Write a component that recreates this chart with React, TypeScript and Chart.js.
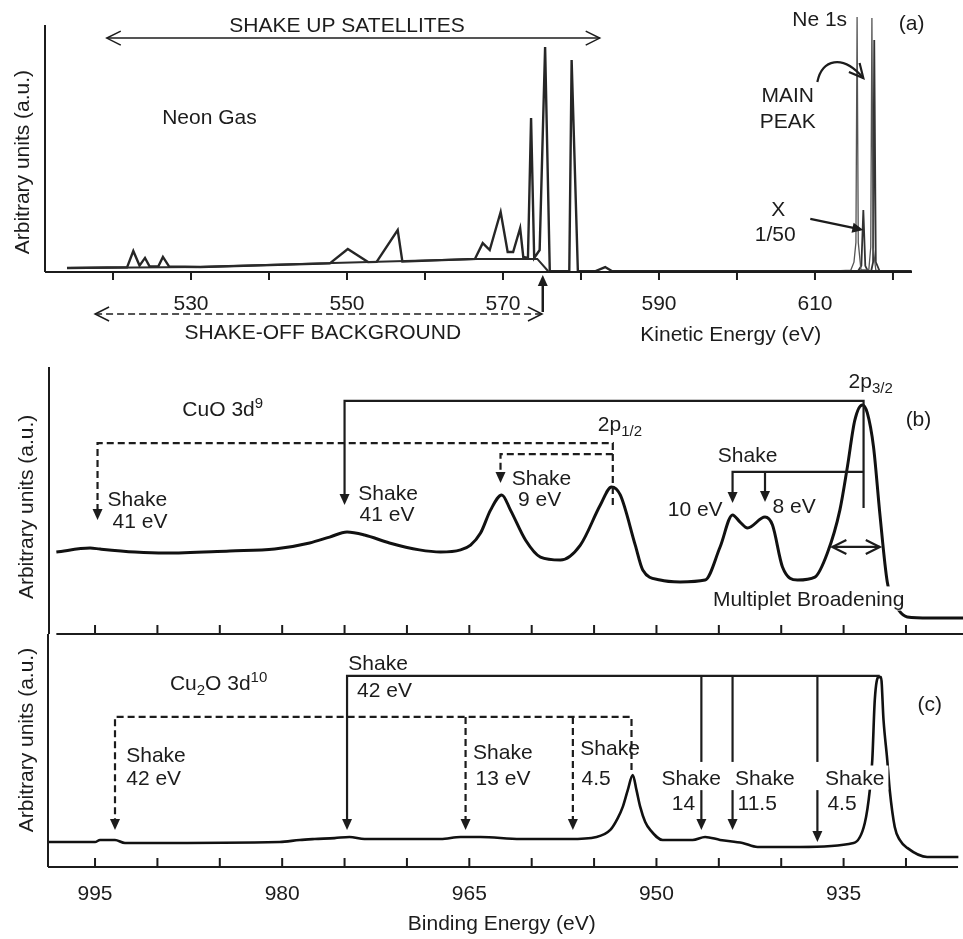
import React, { useEffect, useRef } from "react";
import { Chart, registerables } from "chart.js";

Chart.register(...registerables);

const FONT = "'Liberation Sans', Arial, Helvetica, sans-serif";
const INK = "#1c1c1c";
const FS = 21;

// ---------------- Panel (a): Neon gas, kinetic energy (eV) ----------------
const aSatKE = [514.1, 521.8, 522.6, 523.4, 524.1, 524.7, 525.8, 526.4, 527.2, 531.2, 547.8, 550.1, 552.7, 553.8, 556.5, 557.1, 566.4, 567.4, 568.3, 569.7, 570.6, 571.3, 572.2, 572.6, 573.2, 573.6, 574.0, 574.7, 575.4, 576.0, 578.5, 578.8, 579.6, 581.8, 583.1, 584.0, 622.4];
const aSatI = [1.6, 1.9, 8.5, 2.6, 5.7, 2.2, 2.2, 6.1, 2.2, 2.0, 3.5, 9.3, 4.0, 4.1, 17.0, 4.2, 5.3, 11.7, 8.9, 24.3, 8.1, 8.1, 17.8, 6.1, 5.7, 62.3, 5.7, 8.9, 91.1, 0.3, 0.3, 85.8, 0.3, 0.3, 2.0, 0.3, 0.3];
const aBgKE = [514.1, 531.2, 548.2, 566.7, 574.4, 575.8];
const aBgI = [1.6, 2.0, 3.6, 5.3, 5.3, 0.3];
const aNeMainKE = [612.0, 614.6, 615.0, 615.25, 615.4, 615.55, 615.9, 616.9, 617.15, 617.3, 617.45, 617.8, 619.0];
const aNeMainI = [0.3, 0.8, 4, 12, 103.2, 12, 0.8, 0.8, 10, 102.8, 10, 0.8, 0.3];
const aNeScaledKE = [615.5, 615.95, 616.2, 616.45, 616.8, 617.2, 617.45, 617.6, 617.8, 618.3];
const aNeScaledI = [0.3, 2.5, 25.1, 2.5, 0.3, 0.3, 4, 93.9, 4, 0.3];
const aTicks = [520, 530, 540, 550, 560, 570, 580, 590, 600, 610, 620];
const aTickLabels = [530, 550, 570, 590, 610];

// ---------------- Panel (b): CuO 3d9, binding energy (eV) ----------------
const bBE = [998.1, 995.4, 994.6, 991.8, 989.4, 984.2, 980.6, 977.8, 976.2, 974.8, 973.4, 971.4, 969.0, 967.3, 965.7, 964.9, 964.1, 963.3, 962.4, 961.7, 960.5, 959.3, 957.7, 956.1, 954.5, 953.6, 952.9, 951.7, 951.1, 949.7, 948.1, 946.1, 944.9, 943.9, 943.3, 942.7, 941.3, 940.7, 939.9, 938.7, 937.3, 936.3, 935.3, 934.7, 934.1, 933.5, 933.1, 932.6, 932.1, 931.5, 931.0, 930.6, 929.9, 928.1, 925.4];
const bI = [30.7, 32.2, 31.8, 30.7, 30.3, 31.1, 31.8, 34.1, 36.3, 38.2, 37.1, 34.1, 31.5, 30.7, 31.5, 33.3, 37.8, 46.4, 52.1, 46.4, 35.2, 28.8, 27.7, 33.3, 48.3, 55.1, 52.1, 33.3, 24.0, 20.2, 19.5, 20.2, 32.6, 44.6, 41.9, 39.7, 43.8, 40.8, 25.1, 20.2, 21.3, 30.3, 46.4, 62.5, 80.1, 85.8, 82.8, 70.0, 45.3, 19.5, 12.7, 9.0, 6.4, 6.0, 6.0];

// ---------------- Panel (c): Cu2O 3d10, binding energy (eV) ----------------
const cBE = [998.8, 995.0, 994.6, 993.4, 992.6, 991.0, 980.2, 978.6, 977.4, 975.8, 974.6, 973.4, 967.3, 965.7, 964.1, 960.9, 957.0, 954.8, 953.7, 953.1, 952.7, 952.3, 951.9, 951.6, 951.3, 950.9, 950.5, 949.5, 947.1, 946.1, 944.9, 943.1, 941.9, 938.5, 934.2, 933.3, 932.9, 932.7, 932.5, 932.2, 932.0, 931.8, 931.5, 931.3, 930.9, 930.5, 929.9, 928.3, 925.8];
const cI = [10.7, 10.7, 11.6, 11.6, 10.3, 10.3, 10.7, 11.6, 12.0, 12.4, 12.9, 12.0, 12.0, 12.9, 12.9, 12.0, 12.0, 12.9, 15.9, 21.0, 25.8, 33.0, 39.5, 33.0, 25.8, 19.3, 15.9, 11.6, 11.6, 12.9, 11.6, 10.3, 8.6, 8.6, 10.3, 18.9, 33.0, 45.9, 71.7, 81.5, 81.5, 63.1, 45.9, 33.0, 17.2, 11.6, 8.2, 4.3, 4.3];

const bcTicks = [995, 990, 985, 980, 975, 970, 965, 960, 955, 950, 945, 940, 935, 930];
const cTickLabels = [995, 980, 965, 950, 935];

// ---------------- annotation helpers ----------------
type Seg = { t: string; sub?: boolean; sup?: boolean };
type Ann =
  | { kind: "text"; x: number; y: number; segs: Seg[]; align: "left" | "center" | "right"; rot?: boolean; bg?: boolean }
  | {
      kind: "path";
      pts: number[][];
      dash?: boolean;
      head?: "fill" | "open";
      tail?: "fill" | "open";
      lw?: number;
      bezier?: boolean;
    };

const T = (x: number, y: number, t: string, align: "left" | "center" | "right" = "left", bg = false): Ann => ({
  kind: "text",
  x,
  y,
  segs: [{ t }],
  align,
  bg,
});
const R = (x: number, y: number, segs: Seg[], align: "left" | "center" | "right" = "left"): Ann => ({
  kind: "text",
  x,
  y,
  segs,
  align,
});
const P = (pts: number[][], o: Partial<Extract<Ann, { kind: "path" }>> = {}): Ann => ({ kind: "path", pts, ...o });

const YTITLE = "Arbitrary units (a.u.)";

const aAnns: Ann[] = [
  T(550.0, 100.4, "SHAKE UP SATELLITES", "center"),
  P([[519.2, 94.7], [582.4, 94.7]], { head: "open", tail: "open", lw: 1.5 }),
  T(526.3, 62.8, "Neon Gas"),
  P([[517.7, -17.0], [575.0, -17.0]], { head: "open", tail: "open", lw: 1.5, dash: true }),
  T(546.9, -24.0, "SHAKE-OFF BACKGROUND", "center"),
  P([[575.1, -16.2], [575.1, -1.2]], { head: "fill", lw: 2.5 }),
  T(599.2, -25.0, "Kinetic Energy (eV)", "center"),
  T(610.6, 102.8, "Ne 1s", "center"),
  T(622.4, 101.2, "(a)", "center"),
  T(606.5, 71.7, "MAIN", "center"),
  T(606.5, 61.5, "PEAK", "center"),
  P([[610.3, 76.9], [610.9, 86.0], [613.5, 88.5], [616.2, 78.5]], { bezier: true, head: "open", lw: 2.2 }),
  T(605.3, 25.9, "X", "center"),
  T(604.9, 15.8, "1/50", "center"),
  P([[609.4, 21.5], [616.2, 17.0]], { head: "fill", lw: 2.2 }),
  { kind: "text", x: 508.3, y: 44.5, segs: [{ t: YTITLE }], align: "center", rot: true },
];

const bAnns: Ann[] = [
  R(988.0, 84.6, [{ t: "CuO 3d" }, { t: "9", sup: true }]),
  P([[933.4, 47.2], [933.4, 87.3], [975.0, 87.3], [975.0, 48.3]], { head: "fill" }),
  T(973.9, 53.2, "Shake"),
  T(973.8, 45.3, "41 eV"),
  P([[953.5, 48.3], [953.5, 71.5], [994.8, 71.5], [994.8, 42.7]], { head: "fill", dash: true }),
  T(994.0, 50.6, "Shake"),
  T(993.6, 42.7, "41 eV"),
  P([[953.5, 67.4], [962.5, 67.4], [962.5, 56.6]], { head: "fill", dash: true }),
  T(961.6, 58.8, "Shake"),
  T(961.1, 50.9, "9 eV"),
  R(954.7, 79.0, [{ t: "2p" }, { t: "1/2", sub: true }]),
  R(934.6, 95.1, [{ t: "2p" }, { t: "3/2", sub: true }]),
  T(929.0, 80.9, "(b)", "center"),
  T(942.7, 67.4, "Shake", "center"),
  P([[933.4, 60.7], [943.9, 60.7], [943.9, 49.1]], { head: "fill" }),
  P([[941.3, 60.7], [941.3, 49.4]], { head: "fill" }),
  T(944.7, 47.2, "10 eV", "right"),
  T(940.7, 48.3, "8 eV"),
  P([[935.9, 32.6], [932.1, 32.6]], { head: "open", tail: "open" }),
  T(937.8, 13.5, "Multiplet Broadening", "center", true),
  { kind: "text", x: 1000.6, y: 47.6, segs: [{ t: YTITLE }], align: "center", rot: true },
];

const cAnns: Ann[] = [
  R(989.0, 79.4, [{ t: "Cu" }, { t: "2", sub: true }, { t: "O 3d" }, { t: "10", sup: true }]),
  T(974.7, 87.6, "Shake"),
  T(974.0, 76.0, "42 eV"),
  P([[932.1, 82.0], [974.8, 82.0], [974.8, 15.9]], { head: "fill" }),
  P([[946.4, 82.0], [946.4, 45.1]]),
  P([[946.4, 33.0], [946.4, 15.9]], { head: "fill" }),
  P([[943.9, 82.0], [943.9, 45.1]]),
  P([[943.9, 33.0], [943.9, 15.9]], { head: "fill" }),
  P([[937.1, 82.0], [937.1, 45.1]]),
  P([[937.1, 33.0], [937.1, 10.7]], { head: "fill" }),
  P([[952.0, 41.6], [952.0, 64.4], [993.4, 64.4], [993.4, 15.9]], { head: "fill", dash: true }),
  P([[965.3, 64.4], [965.3, 15.9]], { head: "fill", dash: true }),
  P([[956.7, 64.4], [956.7, 15.9]], { head: "fill", dash: true }),
  T(992.5, 48.1, "Shake"),
  T(992.5, 38.6, "42 eV"),
  T(964.7, 49.4, "Shake"),
  T(964.5, 38.6, "13 eV"),
  T(956.1, 51.5, "Shake"),
  T(956.0, 38.6, "4.5"),
  T(949.6, 38.6, "Shake"),
  T(946.9, 27.5, "14", "right"),
  T(943.7, 38.6, "Shake"),
  T(943.5, 27.5, "11.5"),
  T(936.5, 38.6, "Shake", "left", true),
  T(936.3, 27.5, "4.5"),
  T(928.1, 70.4, "(c)", "center"),
  T(962.4, -24.0, "Binding Energy (eV)", "center"),
  { kind: "text", x: 1000.6, y: 54.5, segs: [{ t: YTITLE }], align: "center", rot: true },
];

interface Decor {
  xAxisFrom?: number;
  ticks: number[];
  tickDir: number;
  tickLen: number;
  labels: number[];
  labelOffset: number;
  anns: Ann[];
  headLen: number;
  headHalf: number;
  annWidth: number;
}

function drawSegs(ctx: CanvasRenderingContext2D, segs: Seg[], x: number, y: number, align: string, bg = false) {
  const main = `${FS}px ${FONT}`;
  const small = `15px ${FONT}`;
  let w = 0;
  for (const s of segs) {
    ctx.font = s.sub || s.sup ? small : main;
    w += ctx.measureText(s.t).width;
  }
  let cx = align === "left" ? x : align === "right" ? x - w : x - w / 2;
  const base = y + FS * 0.36;
  if (bg) {
    ctx.save();
    ctx.fillStyle = "#ffffff";
    ctx.fillRect(cx - 4, y - FS * 0.55, w + 8, FS * 1.15);
    ctx.restore();
  }
  ctx.textAlign = "left";
  ctx.textBaseline = "alphabetic";
  for (const s of segs) {
    ctx.font = s.sub || s.sup ? small : main;
    const dy = s.sub ? 5 : s.sup ? -7.5 : 0;
    ctx.fillText(s.t, cx, base + dy);
    cx += ctx.measureText(s.t).width;
  }
}

function head(
  ctx: CanvasRenderingContext2D,
  fx: number,
  fy: number,
  tx: number,
  ty: number,
  style: string,
  len: number,
  half: number
) {
  const a = Math.atan2(ty - fy, tx - fx);
  const bx = tx - len * Math.cos(a);
  const by = ty - len * Math.sin(a);
  const ox = -Math.sin(a) * half;
  const oy = Math.cos(a) * half;
  ctx.setLineDash([]);
  ctx.beginPath();
  if (style === "fill") {
    ctx.moveTo(tx, ty);
    ctx.lineTo(bx + ox, by + oy);
    ctx.lineTo(bx - ox, by - oy);
    ctx.closePath();
    ctx.fill();
  } else {
    ctx.moveTo(bx + ox, by + oy);
    ctx.lineTo(tx, ty);
    ctx.lineTo(bx - ox, by - oy);
    ctx.stroke();
  }
}

function overlay(id: string, d: Decor) {
  return {
    id,
    afterDraw(chart: any) {
      const ctx: CanvasRenderingContext2D = chart.ctx;
      const ca = chart.chartArea;
      const xs = chart.scales.x;
      const ys = chart.scales.y;
      const X = (v: number) => xs.getPixelForValue(v);
      const Y = (v: number) => ys.getPixelForValue(v);
      ctx.save();
      ctx.strokeStyle = INK;
      ctx.fillStyle = INK;
      ctx.lineCap = "butt";
      ctx.lineJoin = "miter";
      // axes
      ctx.lineWidth = 2;
      ctx.beginPath();
      ctx.moveTo(ca.left, ca.top);
      ctx.lineTo(ca.left, ca.bottom);
      const x0 = d.xAxisFrom !== undefined ? X(d.xAxisFrom) : ca.left;
      ctx.moveTo(x0, ca.bottom);
      ctx.lineTo(ca.right, ca.bottom);
      for (const t of d.ticks) {
        const x = X(t);
        ctx.moveTo(x, ca.bottom);
        ctx.lineTo(x, ca.bottom + d.tickDir * d.tickLen);
      }
      ctx.stroke();
      // tick labels
      ctx.font = `${FS}px ${FONT}`;
      ctx.textAlign = "center";
      ctx.textBaseline = "alphabetic";
      for (const l of d.labels) ctx.fillText(String(l), X(l), ca.bottom + d.labelOffset + FS * 0.36);
      // annotations
      for (const a of d.anns) {
        if (a.kind === "text") {
          if (a.rot) {
            ctx.save();
            ctx.translate(X(a.x), Y(a.y));
            ctx.rotate(-Math.PI / 2);
            drawSegs(ctx, a.segs, 0, 0, "center");
            ctx.restore();
          } else {
            drawSegs(ctx, a.segs, X(a.x), Y(a.y), a.align, a.bg);
          }
          continue;
        }
        const p = a.pts.map((q) => [X(q[0]), Y(q[1])]);
        ctx.lineWidth = a.lw ?? d.annWidth;
        ctx.setLineDash(a.dash ? [7, 4] : []);
        ctx.beginPath();
        if (a.bezier) {
          ctx.moveTo(p[0][0], p[0][1]);
          ctx.bezierCurveTo(p[1][0], p[1][1], p[2][0], p[2][1], p[3][0], p[3][1]);
        } else {
          const pts = p.map((q) => q.slice());
          const n = pts.length;
          if (a.head === "fill") {
            const [fx, fy] = pts[n - 2];
            const [tx, ty] = pts[n - 1];
            const L = Math.hypot(tx - fx, ty - fy);
            pts[n - 1] = [tx - ((tx - fx) / L) * (d.headLen - 2), ty - ((ty - fy) / L) * (d.headLen - 2)];
          }
          ctx.moveTo(pts[0][0], pts[0][1]);
          for (let i = 1; i < n; i++) ctx.lineTo(pts[i][0], pts[i][1]);
        }
        ctx.stroke();
        const n = p.length;
        const hl = a.head === "open" ? d.headLen + 3 : d.headLen;
        if (a.head) head(ctx, p[n - 2][0], p[n - 2][1], p[n - 1][0], p[n - 1][1], a.head, hl, a.head === "open" ? d.headHalf + 2 : d.headHalf);
        if (a.tail) head(ctx, p[1][0], p[1][1], p[0][0], p[0][1], a.tail, hl, a.tail === "open" ? d.headHalf + 2 : d.headHalf);
      }
      ctx.restore();
    },
  };
}

const toPts = (xs: number[], ys: number[]) => xs.map((x, i) => ({ x, y: ys[i] }));

function lineSet(xs: number[], ys: number[], color: string, width: number, smooth: boolean) {
  return {
    data: toPts(xs, ys),
    borderColor: color,
    borderWidth: width,
    pointRadius: 0,
    fill: false,
    clip: false as any,
    tension: 0,
    cubicInterpolationMode: smooth ? ("monotone" as const) : ("default" as const),
  };
}

function config(datasets: any[], xmin: number, xmax: number, reverse: boolean, padding: any, plugin: any): any {
  return {
    type: "line",
    data: { datasets },
    options: {
      responsive: false,
      maintainAspectRatio: false,
      animation: false,
      events: [],
      layout: { padding },
      plugins: { legend: { display: false }, tooltip: { enabled: false } },
      scales: {
        x: { type: "linear", min: xmin, max: xmax, reverse, display: false },
        y: { type: "linear", min: 0, max: 100, display: false },
      },
    },
    plugins: [plugin],
  };
}

export default function App() {
  const ra = useRef<HTMLCanvasElement>(null);
  const rb = useRef<HTMLCanvasElement>(null);
  const rc = useRef<HTMLCanvasElement>(null);

  useEffect(() => {
    const charts: Chart[] = [];
    charts.push(
      new Chart(
        ra.current!,
        config(
          [
            lineSet(aBgKE, aBgI, "#2a2a2a", 2.0, false),
            lineSet(aSatKE, aSatI, "#262626", 2.4, false),
            lineSet(aNeMainKE, aNeMainI, "#555555", 1.3, false),
            lineSet(aNeScaledKE, aNeScaledI, "#333333", 1.8, false),
          ],
          511.28,
          622.44,
          false,
          { left: 45, right: 51, top: 25, bottom: 78 },
          overlay("decorA", {
            ticks: aTicks,
            tickDir: 1,
            tickLen: 8,
            labels: aTickLabels,
            labelOffset: 30,
            anns: aAnns,
            headLen: 11,
            headHalf: 5,
            annWidth: 2,
          })
        )
      )
    );
    charts.push(
      new Chart(
        rb.current!,
        config(
          [lineSet(bBE, bI, "#111111", 3, true)],
          925.43,
          998.69,
          true,
          { left: 49, right: 0, top: 17, bottom: 6 },
          overlay("decorB", {
            xAxisFrom: 998.1,
            ticks: bcTicks,
            tickDir: -1,
            tickLen: 9,
            labels: [],
            labelOffset: 25,
            anns: bAnns,
            headLen: 11,
            headHalf: 5,
            annWidth: 2.2,
          })
        )
      )
    );
    charts.push(
      new Chart(
        rc.current!,
        config(
          [lineSet(cBE, cI, "#111111", 2.6, true)],
          925.83,
          998.77,
          true,
          { left: 48, right: 5, top: 14, bottom: 72 },
          overlay("decorC", {
            ticks: bcTicks,
            tickDir: -1,
            tickLen: 9,
            labels: cTickLabels,
            labelOffset: 25,
            anns: cAnns,
            headLen: 11,
            headHalf: 5,
            annWidth: 2.2,
          })
        )
      )
    );
    return () => charts.forEach((c) => c.destroy());
  }, []);

  return (
    <div
      style={{
        position: "absolute",
        left: 0,
        top: 0,
        width: 963,
        height: 939,
        background: "#ffffff",
        overflow: "hidden",
      }}
    >
      <canvas ref={ra} width={963} height={350} style={{ position: "absolute", left: 0, top: 0 }} />
      <canvas ref={rb} width={963} height={290} style={{ position: "absolute", left: 0, top: 350 }} />
      <canvas ref={rc} width={963} height={319} style={{ position: "absolute", left: 0, top: 620 }} />
    </div>
  );
}
